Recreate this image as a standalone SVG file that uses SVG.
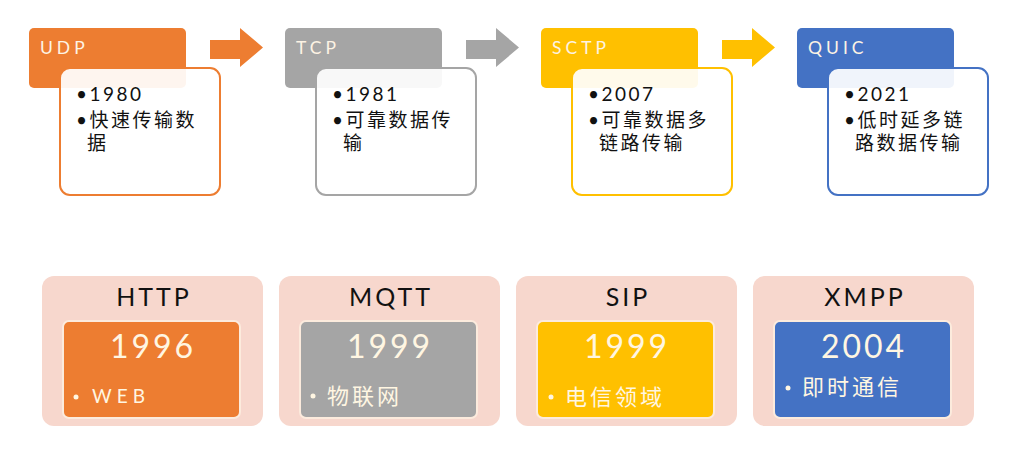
<svg xmlns="http://www.w3.org/2000/svg" width="1015" height="456" viewBox="0 0 1015 456">
<style>
.hdr{font-family:Lato,"Noto Sans CJK SC",sans-serif;font-size:17.5px;letter-spacing:4px;fill:#FDF3E4}
.det{font-family:Lato,"Noto Sans CJK SC",sans-serif;font-size:19px;letter-spacing:2.5px;fill:#111}
.box{fill:#fff;fill-opacity:0.92;stroke-width:2}
.outer{fill:#F7D7CD}
.inner{stroke:#FCEBDD;stroke-width:2}
.ttl{font-family:Lato,"Noto Sans CJK SC",sans-serif;font-size:25px;letter-spacing:3px;fill:#111;text-anchor:middle}
.yr{font-family:Lato,"Noto Sans CJK SC",sans-serif;font-size:32px;letter-spacing:3px;fill:#FFF6E2;text-anchor:middle}
.it{font-family:Lato,"Noto Sans CJK SC",sans-serif;font-size:22px;letter-spacing:3px;fill:#FFF6E2}
.dot{fill:#FFF6E2}
</style>
<g id="connectors">
<polygon points="210,40 240,40 240,28 263,47.5 240,67 240,59 210,59" fill="#ED7D31"/>
<polygon points="466,40 496,40 496,28 519,47.5 496,67 496,59 466,59" fill="#A5A5A5"/>
<polygon points="722,40 752,40 752,28 775,47.5 752,67 752,59 722,59" fill="#FFC000"/>
</g>
<g id="udp">
<rect x="29" y="28" width="157" height="60" rx="5" fill="#ED7D31"/>
<text class="hdr" x="40" y="54">UDP</text>
<rect class="box" x="60" y="68" width="160" height="127" rx="10" stroke="#ED7D31"/>
<text class="det" x="76" y="101">•1980</text>
<text class="det" x="76" y="127">•快速传输数</text>
<text class="det" x="87" y="150">据</text>
</g>
<g id="tcp">
<rect x="285" y="28" width="157" height="60" rx="5" fill="#A5A5A5"/>
<text class="hdr" x="296" y="54">TCP</text>
<rect class="box" x="316" y="68" width="160" height="127" rx="10" stroke="#A5A5A5"/>
<text class="det" x="332" y="101">•1981</text>
<text class="det" x="332" y="127">•可靠数据传</text>
<text class="det" x="343" y="150">输</text>
</g>
<g id="sctp">
<rect x="541" y="28" width="157" height="60" rx="5" fill="#FFC000"/>
<text class="hdr" x="552" y="54">SCTP</text>
<rect class="box" x="572" y="68" width="160" height="127" rx="10" stroke="#FFC000"/>
<text class="det" x="588" y="101">•2007</text>
<text class="det" x="588" y="127">•可靠数据多</text>
<text class="det" x="599" y="150">链路传输</text>
</g>
<g id="quic">
<rect x="797" y="28" width="157" height="60" rx="5" fill="#4472C4"/>
<text class="hdr" x="808" y="54">QUIC</text>
<rect class="box" x="828" y="68" width="160" height="127" rx="10" stroke="#4472C4"/>
<text class="det" x="844" y="101">•2021</text>
<text class="det" x="844" y="127">•低时延多链</text>
<text class="det" x="855" y="150">路数据传输</text>
</g>
<g id="http">
<rect class="outer" x="42" y="276" width="221" height="150" rx="12"/>
<text class="ttl" x="154" y="306">HTTP</text>
<rect class="inner" x="63" y="321" width="177" height="97" rx="6" fill="#ED7D31"/>
<text class="yr" x="153" y="358">1996</text>
<circle class="dot" cx="76" cy="397" r="2.5"/>
<text class="it" x="92" y="403" style="font-size:19px;letter-spacing:5px">WEB</text>
</g>
<g id="mqtt">
<rect class="outer" x="279" y="276" width="221" height="150" rx="12"/>
<text class="ttl" x="391" y="306">MQTT</text>
<rect class="inner" x="300" y="321" width="177" height="97" rx="6" fill="#A5A5A5"/>
<text class="yr" x="390" y="358">1999</text>
<circle class="dot" cx="313" cy="396" r="2.5"/>
<text class="it" x="327" y="404">物联网</text>
</g>
<g id="sip">
<rect class="outer" x="516" y="276" width="221" height="150" rx="12"/>
<text class="ttl" x="628" y="306">SIP</text>
<rect class="inner" x="537" y="321" width="177" height="97" rx="6" fill="#FFC000"/>
<text class="yr" x="627" y="358">1999</text>
<circle class="dot" cx="551" cy="397" r="2.5"/>
<text class="it" x="565" y="405">电信领域</text>
</g>
<g id="xmpp">
<rect class="outer" x="753" y="276" width="221" height="150" rx="12"/>
<text class="ttl" x="865" y="306">XMPP</text>
<rect class="inner" x="774" y="321" width="177" height="97" rx="6" fill="#4472C4"/>
<text class="yr" x="864" y="358">2004</text>
<circle class="dot" cx="788" cy="388" r="2.5"/>
<text class="it" x="802" y="395">即时通信</text>
</g>
</svg>
